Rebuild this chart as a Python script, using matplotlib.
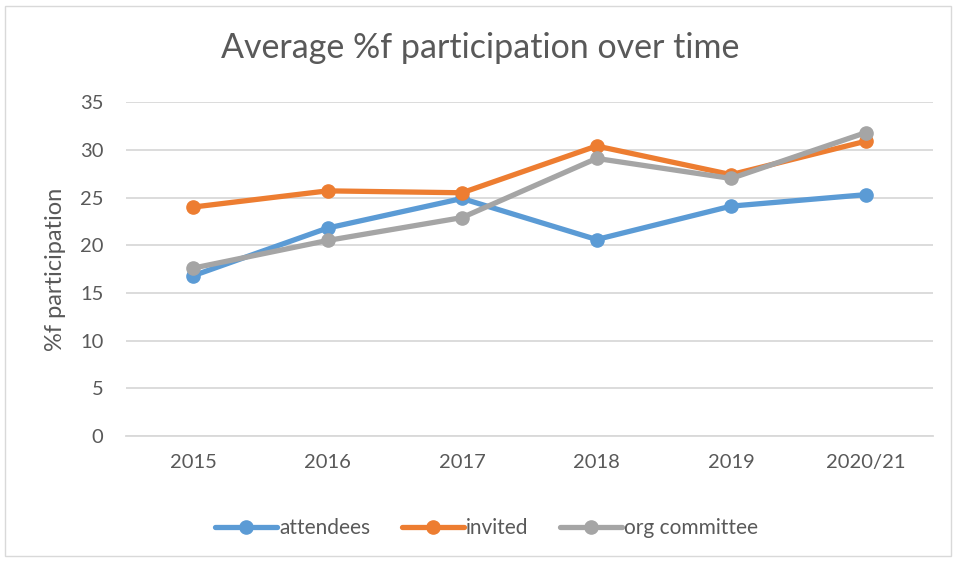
import matplotlib
matplotlib.use("Agg")
import matplotlib.pyplot as plt
from matplotlib.patches import Rectangle

plt.rcParams["font.family"] = ["Lato", "DejaVu Sans"]

# chart data
years = ["2015", "2016", "2017", "2018", "2019", "2020/21"]
attendees = [16.8, 21.8, 24.9, 20.6, 24.1, 25.3]
invited = [24.0, 25.7, 25.5, 30.4, 27.4, 30.9]
org_committee = [17.6, 20.5, 22.9, 29.1, 27.0, 31.8]

series = [
    ("attendees", attendees, "#5B9BD5"),
    ("invited", invited, "#ED7D31"),
    ("org committee", org_committee, "#A5A5A5"),
]

TEXT = "#595959"
GRID = "#D9D9D9"

fig = plt.figure(figsize=(9.61, 5.62), dpi=100)
ax = fig.add_axes([0.1308, 0.224, 0.840, 0.5943])

x = range(len(years))
for name, values, color in series:
    ax.plot(x, values, color=color, linewidth=3.8, marker="o",
            markersize=9.5, label=name, solid_capstyle="round")

ax.set_xlim(-0.5, len(years) - 0.5)
ax.set_ylim(0, 35)
ax.set_yticks(range(0, 36, 5))
ax.set_xticks(list(x))
ax.set_xticklabels(years)
ax.grid(axis="y", color=GRID, linewidth=1.3)
ax.set_axisbelow(True)
for side in ["top", "right", "left"]:
    ax.spines[side].set_visible(False)
ax.spines["bottom"].set_color(GRID)
ax.spines["bottom"].set_linewidth(1.3)
ax.tick_params(length=0, colors=TEXT, labelsize=14.5, pad=13)
ax.tick_params(axis="y", pad=16)

ax.set_ylabel("%f participation", fontsize=17, color=TEXT, labelpad=10)
fig.text(0.5, 0.915, "Average %f participation over time", ha="center",
         va="center", fontsize=24.5, color=TEXT)

ax.legend(loc="upper center", bbox_to_anchor=(0.447, -0.19), ncol=3,
          frameon=False, fontsize=15, labelcolor=TEXT, handlelength=3.0,
          handletextpad=0.1, columnspacing=1.5)

fig.patches.append(Rectangle((0.005, 0.01), 0.985, 0.98, transform=fig.transFigure,
                             fill=False, edgecolor="#D9D9D9", linewidth=1))

fig.savefig("out.png", dpi=100)
